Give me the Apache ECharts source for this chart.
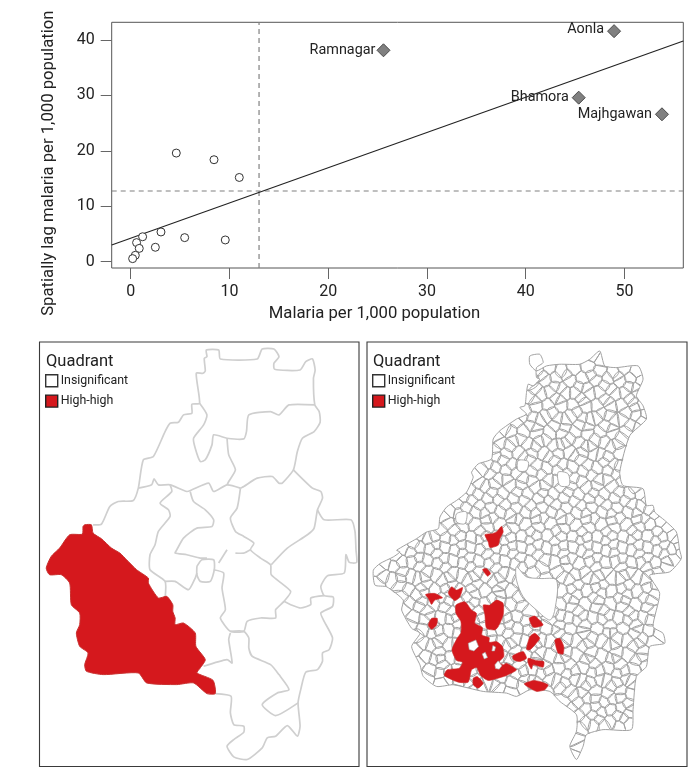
<!DOCTYPE html>
<html><head><meta charset="utf-8">
<style>html,body{margin:0;padding:0;background:#fff}#c{width:699px;height:775px}</style>
<script src="https://cdn.jsdelivr.net/npm/echarts@6/dist/echarts.min.js"></script>
</head><body><div id="c"></div>
<script>
// ---- scatter values
const xTicks=[0,10,20,30,40,50];
const yTicks=[0,10,20,30,40];
const lowX=[4.62,8.44,11.0,1.21,3.07,0.6,0.87,2.5,5.47,9.58,0.47,0.2];
const lowY=[19.6,18.4,15.2,4.5,5.36,3.44,2.4,2.6,4.34,3.92,1.15,0.55];
const hotNames=['Ramnagar','Aonla','Bhamora','Majhgawan'];
const hotX=[25.6,48.95,45.37,53.8];
const hotY=[38.15,41.6,29.6,26.6];
const fitX=[-1.92,55.96];
const fitY=[3.0,39.84];
const meanX=13.0;
const meanY=12.76;
const legendNames=['Insignificant','High-high'];

// ---- map traces, in map units
const leftLines=[
[[190,570],[215,568],[240,515],[265,500],[310,497],[325,460],[340,375],[370,365],[405,290],[420,265],[445,262],[460,240],[485,235],[485,208],[508,205],[498,115],[518,115],[525,108],[522,70],[530,65],[528,45],[565,45],[570,72],[680,72],[695,42],[730,42],[745,65],[730,85],[732,103],[808,105],[825,80],[845,72],[853,105],[848,130],[852,210],[865,230],[868,262],[850,290],[815,310],[800,350],[788,405],[755,445],[745,445],[725,425],[680,430],[640,455],[630,460]],
[[508,205],[530,240],[520,270],[490,310],[495,340],[510,380],[525,375],[545,330],[550,300],[590,310],[640,312],[648,290],[655,240],[720,230],[745,240],[775,210],[852,210]],
[[590,310],[595,360],[615,405],[595,440],[590,450]],
[[325,460],[365,450],[372,432],[385,450],[420,450],[470,470],[485,465],[535,445],[550,470],[590,450],[630,460]],
[[420,450],[425,470],[390,505],[415,525],[420,545],[385,590],[375,630],[360,660],[360,705],[405,740],[405,790]],
[[480,470],[490,500],[525,525],[550,555],[545,575],[500,580],[460,610],[440,645],[435,655],[470,660],[510,670],[530,670]],
[[630,460],[620,520],[600,550],[615,590],[640,605],[670,625],[660,645],[690,670],[720,690],[722,720],[780,770],[760,800],[735,825],[735,850],[690,850],[650,860],[640,890],[600,890],[570,850],[585,825],[575,760],[580,715],[550,705]],
[[615,655],[640,655],[660,645]],
[[788,405],[845,460],[870,470],[875,490],[860,525],[850,580],[830,600],[770,640],[722,690]],
[[860,525],[880,555],[960,555],[972,590],[975,645],[977,683],[955,683],[945,660],[940,715],[890,723],[870,755],[880,783],[907,787],[905,815],[870,835],[880,860],[905,910],[895,945],[875,955],[875,980],[860,1005],[825,1013],[810,1065],[802,1105],[808,1175],[800,1205],[770,1173],[735,1205],[710,1210],[695,1240],[650,1275],[610,1267],[590,1235],[610,1215],[640,1193],[640,1175],[610,1170],[600,1135],[602,1085],[555,1077]],
[[880,783],[840,790],[840,810],[810,820],[780,810],[760,800]],
[[500,695],[515,675],[550,675],[552,705],[540,740],[510,740],[500,720],[500,695]],
[[405,740],[435,740],[475,765],[495,730],[500,715]],
[[600,890],[640,890],[655,910],[655,940],[665,965],[720,990],[745,1020],[775,1065],[740,1075],[695,1110],[735,1143],[802,1105]],
[[600,895],[595,915],[605,985],[590,975],[520,995]],
[[590,645],[565,685]]
];
const leftRed=[[[165,570],[185,570],[190,595],[215,612],[245,640],[270,655],[290,675],[320,705],[355,730],[355,745],[385,790],[410,785],[428,810],[428,830],[435,850],[435,870],[460,865],[495,895],[497,935],[525,975],[510,1000],[500,1015],[548,1037],[555,1077],[530,1077],[490,1045],[440,1050],[350,1045],[325,1015],[220,1020],[170,1010],[165,990],[175,955],[150,935],[140,895],[150,870],[150,835],[125,810],[120,745],[95,720],[60,720],[50,700],[65,665],[90,640],[120,600],[158,598],[160,575]]];

const rightOutline=[[510,60],[540,55],[550,80],[530,95],[530,125],[540,130],[520,150],[505,145],[500,170],[495,210],[480,215],[500,235],[470,250],[420,285],[400,310],[395,370],[355,385],[335,410],[340,425],[320,470],[290,495],[260,515],[240,545],[235,580],[200,590],[170,610],[110,645],[120,650],[100,665],[60,685],[40,705],[45,750],[80,755],[130,795],[125,825],[155,880],[180,895],[155,935],[180,990],[190,1025],[230,1055],[280,1050],[370,1070],[440,1075],[470,1085],[510,1065],[570,1070],[600,1100],[650,1140],[650,1190],[630,1235],[650,1275],[670,1235],[680,1200],[730,1185],[815,1185],[820,1125],[830,1025],[860,995],[870,935],[915,925],[910,895],[880,875],[900,775],[870,720],[930,710],[965,670],[960,645],[950,590],[915,555],[885,530],[880,510],[860,510],[850,460],[790,450],[780,410],[810,300],[860,250],[850,210],[830,180],[850,130],[835,90],[770,95],[735,90],[720,45],[690,70],[660,85],[600,85],[560,90],[530,105],[510,85]];
const rightHoles=[[[470,695],[500,725],[540,730],[590,735],[585,825],[570,855],[530,825],[490,785],[470,735]],[[595,410],[625,415],[628,450],[600,450]],[[475,375],[505,378],[500,405],[475,405]],[[290,535],[320,530],[315,565],[290,560]]];
const rightRed=[
[[375,598],[395,595],[410,590],[425,573],[430,590],[420,610],[415,630],[390,637],[385,620]],
[[368,703],[380,700],[392,715],[383,723]],
[[197,778],[225,775],[248,788],[225,795],[215,808],[205,790]],
[[265,773],[275,755],[290,765],[308,757],[300,785],[285,797],[270,783]],
[[205,870],[215,850],[232,850],[230,870],[215,883]],
[[370,810],[390,810],[410,795],[430,805],[430,840],[415,875],[405,885],[380,880],[375,840]],
[[288,810],[315,800],[335,825],[350,835],[345,865],[368,878],[366,900],[388,908],[388,922],[410,920],[428,935],[432,965],[417,982],[430,990],[440,985],[470,1005],[440,1022],[415,1030],[385,1037],[362,1022],[350,998],[335,1005],[325,1042],[295,1042],[253,1022],[262,1005],[298,1000],[308,982],[290,977],[276,945],[293,908],[303,893],[303,860],[288,835]],
[[340,1030],[352,1025],[370,1045],[355,1060],[340,1050]],
[[508,850],[525,843],[550,870],[520,877]],
[[510,905],[525,895],[540,910],[525,930],[510,945],[500,943]],
[[458,963],[490,950],[500,970],[480,980],[462,975]],
[[505,970],[530,977],[552,980],[550,997],[520,990],[515,1003],[505,985]],
[[585,915],[600,910],[612,935],[610,957],[595,955]],
[[493,1047],[520,1037],[540,1040],[565,1050],[555,1065],[530,1070],[505,1057]]
];
const redGaps=[[[325,925],[348,915],[356,935],[342,948],[328,944]],[[405,990],[415,978],[426,993],[418,1003],[407,1001]],[[367,957],[376,952],[383,968],[373,972]],[[399,932],[407,936],[404,948],[396,948]]];
// village centres, x,y pairs
const villages=[
520,68,541,78,700,60,722,74,
536,108,566,96,607,110,640,98,688,93,716,106,764,114,791,98,830,110,
514,144,558,133,586,150,631,136,660,152,709,131,735,149,781,136,809,152,843,134,
510,184,543,174,590,190,617,170,664,188,689,172,737,192,766,174,811,190,833,172,
496,224,528,212,576,230,603,210,650,228,677,214,726,232,753,212,800,230,827,214,855,236,
470,256,513,270,540,251,588,272,615,252,664,268,690,250,738,272,765,254,814,270,846,252,
410,304,453,288,481,310,530,292,556,312,606,290,632,308,682,294,708,312,758,292,784,308,
405,342,450,330,477,350,526,332,552,352,603,328,628,348,679,334,704,354,755,332,781,350,
386,388,429,372,456,390,507,370,532,392,583,374,608,390,660,370,684,392,735,376,760,390,
346,424,390,412,416,432,468,410,491,430,544,414,567,434,620,412,643,430,696,416,719,434,769,412,
331,466,374,452,399,472,452,450,475,470,528,454,551,474,604,452,627,470,680,456,703,474,756,452,779,472,827,454,846,474,
293,506,336,492,361,512,414,490,437,510,490,494,513,514,566,492,589,510,642,496,665,514,718,492,741,512,794,494,817,510,863,492,
252,546,297,532,321,552,374,530,397,550,450,534,473,554,526,532,549,550,602,536,625,554,678,532,701,552,754,534,777,550,830,530,853,552,885,534,
241,582,285,590,309,570,362,592,385,572,438,590,461,574,514,594,537,572,590,590,613,576,666,594,689,572,742,592,765,574,818,590,841,570,894,592,923,576,
161,626,205,610,229,630,282,612,305,632,358,610,381,630,434,614,457,634,510,612,533,630,586,616,609,634,662,612,685,632,738,614,761,630,814,610,837,632,890,614,913,632,951,611,
108,664,153,650,177,670,230,652,253,672,306,650,329,670,382,654,405,674,458,652,481,670,534,656,557,674,610,652,633,672,686,654,709,670,762,650,785,672,838,654,861,670,914,652,937,672,966,646,
58,706,103,692,127,712,180,690,203,710,256,694,279,714,332,692,355,710,408,696,431,714,484,692,521,712,545,694,598,710,621,694,674,714,711,692,735,712,788,694,811,710,864,692,889,712,921,694,
52,744,97,732,121,752,174,730,197,750,250,734,273,754,326,732,349,750,402,736,425,754,478,732,501,750,554,736,577,754,630,732,653,752,706,734,729,750,782,730,805,752,858,734,885,752,
126,782,171,782,194,770,247,792,270,772,323,790,346,774,399,794,422,772,475,790,498,776,551,794,574,772,627,792,650,774,703,790,726,770,779,792,802,774,855,790,884,772,
133,824,178,810,201,830,254,812,277,832,330,810,353,830,406,814,429,834,482,812,505,830,558,816,581,834,634,812,657,832,710,814,733,830,786,810,809,832,862,814,880,832,
151,866,196,852,219,872,272,850,295,870,348,854,371,874,424,852,447,870,500,856,523,874,576,852,599,872,652,854,675,870,728,850,751,872,804,854,827,870,873,852,
173,904,218,892,241,912,294,890,317,910,370,894,393,914,446,892,469,910,522,896,545,914,598,892,621,912,674,894,697,910,750,890,773,912,826,894,849,910,895,892,
168,944,214,932,237,952,290,930,313,950,366,934,389,954,442,932,465,950,518,936,541,954,594,932,617,952,670,934,693,950,746,930,769,952,822,934,848,950,
178,984,224,972,247,992,300,970,323,990,376,974,399,994,452,972,475,990,528,976,551,994,604,972,627,992,680,974,703,990,756,970,779,992,832,974,858,990,
198,1026,244,1012,267,1032,320,1014,343,1034,396,1012,419,1030,472,1016,495,1034,548,1012,571,1032,624,1014,647,1030,700,1010,723,1032,776,1014,799,1030,
290,1062,338,1058,363,1050,418,1058,450,1070,527,1046,553,1064,606,1052,629,1070,682,1050,705,1070,758,1052,781,1068,824,1050,
612,1102,657,1100,681,1090,734,1102,757,1092,803,1108,
655,1144,700,1142,724,1132,776,1144,807,1134,
660,1178,702,1168,733,1172,779,1172,806,1164,
648,1212,660,1238,650,1264
];
// smaller villages between the ones above
const villagesSmall=[
522,124,547,119,589,128,618,117,668,130,697,118,745,130,772,121,814,128,
527,160,571,167,604,157,645,170,678,156,720,168,753,161,796,170,826,156,
524,196,566,208,598,194,641,208,670,196,713,210,744,198,786,208,819,198,846,206,
486,240,520,246,559,239,597,250,636,238,671,248,711,244,749,238,786,250,831,238,
436,280,491,287,527,276,571,292,611,277,649,290,679,274,723,290,754,280,801,289,831,276,
421,323,462,316,504,327,541,316,582,332,617,322,656,320,693,332,732,318,771,326,
410,362,437,354,493,362,515,352,567,362,594,352,645,360,668,350,721,358,741,366,
372,402,404,394,441,404,482,392,520,408,559,398,596,404,637,394,672,406,709,398,748,404,775,396,
360,444,405,445,440,432,484,448,515,436,556,450,590,436,635,450,664,438,712,450,742,434,790,436,
312,484,352,476,385,490,426,474,463,490,500,474,540,490,578,476,615,488,654,476,692,490,730,476,768,488,806,474,
272,526,316,516,350,530,390,516,424,528,468,516,500,530,546,514,578,528,618,516,654,530,694,514,730,528,770,516,808,528,842,514,870,522,
262,564,306,552,342,566,384,554,416,566,462,552,494,566,534,552,570,564,612,554,646,570,684,552,722,566,760,556,798,568,836,552,868,566,904,558,
180,598,222,604,258,608,296,602,338,608,372,602,412,606,448,606,488,604,524,600,566,600,600,602,642,604,676,606,716,606,752,600,794,604,826,598,866,602,906,604,938,600,
130,640,178,636,212,640,252,634,288,644,330,634,364,642,408,634,438,644,484,634,516,642,560,638,590,642,640,634,668,644,710,636,742,644,786,636,818,644,862,636,896,644,934,642,958,632,
76,684,124,680,158,678,200,674,236,684,278,676,312,682,354,678,392,684,434,678,470,684,510,680,584,680,620,676,656,686,694,676,734,682,770,676,814,682,846,678,884,684,926,678,
70,722,122,726,152,724,192,726,228,718,268,726,306,720,340,724,382,722,418,728,452,720,610,722,646,718,684,726,720,720,756,730,796,718,832,726,872,718,
142,764,190,758,222,766,262,760,296,768,340,760,372,766,420,762,450,768,604,768,640,762,680,766,712,756,752,768,790,760,830,768,866,756,
152,802,182,800,224,804,262,798,300,804,338,802,378,806,416,798,458,806,604,806,636,796,678,806,712,796,754,804,792,796,830,808,868,796,
160,846,206,842,244,848,282,846,324,842,362,848,400,836,438,850,472,844,600,842,628,850,666,842,700,848,744,840,778,850,818,842,852,846,
192,884,232,888,268,884,312,882,350,880,392,892,422,880,470,880,508,884,560,880,592,884,630,880,672,884,712,880,752,890,790,878,832,882,868,888,
190,924,232,924,266,930,306,926,342,922,380,928,420,922,452,926,498,918,530,924,570,918,610,926,650,918,684,926,726,918,760,928,802,916,838,924,876,918,
198,966,238,970,272,966,306,968,348,962,388,970,424,960,460,968,500,958,530,966,570,962,612,968,652,958,686,970,726,962,764,968,806,958,846,966,
210,1004,262,1010,292,1006,332,1010,368,1002,412,1010,442,1002,488,1010,516,1002,560,1008,602,998,644,1010,672,996,716,1008,746,998,792,1010,822,1002,
250,1044,296,1040,330,1046,384,1042,408,1048,456,1044,490,1048,514,1040,590,1038,612,1046,664,1036,690,1044,738,1036,770,1044,812,1036,
642,1082,668,1076,706,1090,745,1078,782,1088,815,1078,
634,1122,678,1122,708,1116,752,1124,786,1118,812,1122,
678,1162,716,1154,752,1160,792,1152
];

// ---- geometry: one cell for each village, from the typed centres
const allVillages=villages.concat(villagesSmall);
const LX=[30,984],LY=[21,1296],RX=[21,982],RY=[18,1296];
const CELL_BOX=[RX[0]+6,RY[0]+6,RX[1]-6,RY[1]-6];
function cellOf(i){
  const sx=allVillages[2*i],sy=allVillages[2*i+1];
  let poly=[[CELL_BOX[0],CELL_BOX[1]],[CELL_BOX[2],CELL_BOX[1]],[CELL_BOX[2],CELL_BOX[3]],[CELL_BOX[0],CELL_BOX[3]]];
  for(let j=0;j<allVillages.length/2;j++){
    if(j===i)continue;
    const ox=allVillages[2*j],oy=allVillages[2*j+1];
    const dx=ox-sx,dy=oy-sy;
    if(dx*dx+dy*dy>90000)continue;
    const mx=(ox+sx)/2,my=(oy+sy)/2,out=[];
    for(let k=0;k<poly.length;k++){
      const a=poly[k],b=poly[(k+1)%poly.length];
      const da=(a[0]-mx)*dx+(a[1]-my)*dy,db=(b[0]-mx)*dx+(b[1]-my)*dy;
      if(da<=0)out.push(a);
      if((da<0&&db>0)||(da>0&&db<0)){const t=da/(da-db);out.push([a[0]+t*(b[0]-a[0]),a[1]+t*(b[1]-a[1])]);}
    }
    poly=out;
  }
  return poly;
}
const rightCells=[],rightRimCells=[];
for(let i=0;i<allVillages.length/2;i++){
  const cell=cellOf(i);
  const onRim=cell.some(p=>p[0]<=CELL_BOX[0]+1||p[0]>=CELL_BOX[2]-1||p[1]<=CELL_BOX[1]+1||p[1]>=CELL_BOX[3]-1);
  (onRim?rightRimCells:rightCells).push(cell);
}

// white surround that trims the cells to the district outline
function surround(outline,xr,yr){
  let area=0;
  outline.forEach((p,i)=>{const q=outline[(i+1)%outline.length];area+=p[0]*q[1]-q[0]*p[1];});
  const o=area>0?outline.slice().reverse():outline.slice();
  const r=[[xr[0]+3,yr[0]+3],[xr[1]-3,yr[0]+3],[xr[1]-3,yr[1]-3],[xr[0]+3,yr[1]-3]];
  return [[...r,r[0],...o,o[0],r[0]]];
}

function shapeSeries(name,shapes,grid,type,fill,stroke,lw,z,smooth){
  return {type:'custom',name:name||undefined,xAxisIndex:grid,yAxisIndex:grid,z:z,silent:true,animation:false,
    coordinateSystem:'cartesian2d',
    data:shapes.map((_,i)=>[i]),
    renderItem:(p,api)=>({type:type,
      shape:{points:shapes[api.value(0)].map(c=>api.coord(c)),smooth:smooth||0},
      style:{fill:fill,stroke:stroke,lineWidth:lw,lineJoin:'round'}})};
}
const RED='#d5181d',LINE='#cfcfcf',CELL='#a2a2a2',INK='#222';

const series=[
 shapeSeries('Insignificant',leftLines,1,'polyline','none',LINE,1.7,2,0.2),
 shapeSeries('High-high',leftRed,1,'polygon',RED,'#c9302f',1,3,0.2),
 shapeSeries('Insignificant',rightCells,2,'polygon','none',CELL,1,2,0.35),
 shapeSeries('',rightRimCells,2,'polygon','none',CELL,1,2,0),
 shapeSeries('',surround(rightOutline,RX,RY),2,'polygon','#fff','none',0,3),
 shapeSeries('',[rightOutline],2,'polygon','none',CELL,1,4,0.2),
 shapeSeries('',rightHoles,2,'polygon','#fff',CELL,.9,4,0.3),
 shapeSeries('High-high',rightRed,2,'polygon',RED,'#c9302f',.6,5,0.2),
 shapeSeries('',redGaps,2,'polygon','#fff',CELL,.6,6),
 {type:'line',data:[[meanX,-1.14],[meanX,43.2]],xAxisIndex:0,yAxisIndex:0,symbol:'none',silent:true,animation:false,
  lineStyle:{color:'#808080',width:1.2,type:[5,4]}},
 {type:'line',data:[[-1.92,meanY],[55.96,meanY]],xAxisIndex:0,yAxisIndex:0,symbol:'none',silent:true,animation:false,
  lineStyle:{color:'#808080',width:1.2,type:[5,4]}},
 {type:'line',data:fitX.map((x,i)=>[x,fitY[i]]),xAxisIndex:0,yAxisIndex:0,symbol:'none',silent:true,animation:false,
  lineStyle:{color:'#222',width:1.1}},
 {type:'scatter',data:lowX.map((x,i)=>[x,lowY[i]]),xAxisIndex:0,yAxisIndex:0,symbol:'circle',symbolSize:8,silent:true,animation:false,z:5,
  itemStyle:{color:'#fff',borderColor:'#333',borderWidth:1,opacity:1}},
 {type:'scatter',data:hotX.map((x,i)=>({value:[x,hotY[i]],name:hotNames[i],
    label:{offset:hotNames[i]==='Ramnagar'?[1,0]:[-1,hotNames[i]==='Aonla'?-2:0]}})),
  xAxisIndex:0,yAxisIndex:0,symbol:'diamond',symbolSize:[13,13],silent:true,animation:false,z:5,
  itemStyle:{color:'#808080',borderColor:'#4a4a4a',borderWidth:1,opacity:1},
  label:{show:true,position:'left',distance:2,formatter:p=>p.name,fontFamily:'Roboto',fontSize:14.4,color:INK}}
];

function legendAt(left){
  return {left:left,top:374,orient:'vertical',padding:0,itemWidth:12,itemHeight:12,itemGap:7,selectedMode:false,
    icon:'rect',
    textStyle:{fontFamily:'Roboto',fontSize:12.4,color:INK,padding:[0,0,0,-2]},
    data:[{name:legendNames[0],icon:'rect',itemStyle:{color:'#fff',borderColor:'#333',borderWidth:1.4}},
          {name:legendNames[1],icon:'rect',itemStyle:{color:RED,borderColor:'#222',borderWidth:1.4}}]};
}
const mapAxisX=(g,r)=>({gridIndex:g,type:'value',min:r[0],max:r[1],show:false});
const mapAxisY=(g,r)=>({gridIndex:g,type:'value',min:r[0],max:r[1],inverse:true,show:false});
const chart=echarts.init(document.getElementById('c'),null,{renderer:'canvas'});
chart.setOption({
 backgroundColor:'#fff',animation:false,
 textStyle:{fontFamily:'Roboto'},
 title:[46,373].map(l=>({text:'Quadrant',left:l,top:353,padding:0,textStyle:{fontFamily:'Roboto',fontSize:16.5,fontWeight:'normal',color:INK}})),
 legend:[legendAt(45),legendAt(372)],
 grid:[
  {left:111.7,top:22.3,width:571.6,height:245.7,show:true,borderColor:'#555',borderWidth:1,backgroundColor:'transparent'},
  {left:39.5,top:342,width:319.5,height:424.5,show:true,borderColor:'#3a3a3a',borderWidth:1.1,backgroundColor:'#fff'},
  {left:367,top:342,width:320,height:424.5,show:true,borderColor:'#3a3a3a',borderWidth:1.1,backgroundColor:'#fff'}
 ],
 xAxis:[
  {gridIndex:0,type:'value',min:-1.92,max:55.96,splitLine:{show:false},axisLine:{show:false,onZero:false},
   axisTick:{show:true,length:11,customValues:xTicks,lineStyle:{color:'#666',width:1}},
   axisLabel:{customValues:xTicks,margin:15.5,fontFamily:'Roboto',fontSize:16,color:INK,showMinLabel:true,showMaxLabel:true},
   name:'Malaria per 1,000 population',nameLocation:'middle',nameGap:37,
   nameTextStyle:{fontFamily:'Roboto',fontSize:16.7,color:INK,padding:[0,46,0,0]}},
  mapAxisX(1,LX),mapAxisX(2,RX)
 ],
 yAxis:[
  {gridIndex:0,type:'value',min:-1.14,max:43.2,splitLine:{show:false},axisLine:{show:false,onZero:false},
   axisTick:{show:true,length:11,customValues:yTicks,lineStyle:{color:'#666',width:1}},
   axisLabel:{customValues:yTicks,margin:17,fontFamily:'Roboto',fontSize:16,color:INK,padding:[3,0,0,0]},
   name:'Spatially lag malaria per 1,000 population',nameLocation:'middle',nameRotate:90,nameGap:54,
   nameTextStyle:{fontFamily:'Roboto',fontSize:16.7,color:INK,padding:[0,36,0,0]}},
  mapAxisY(1,LY),mapAxisY(2,RY)
 ],
 series:series
});
</script></body></html>
